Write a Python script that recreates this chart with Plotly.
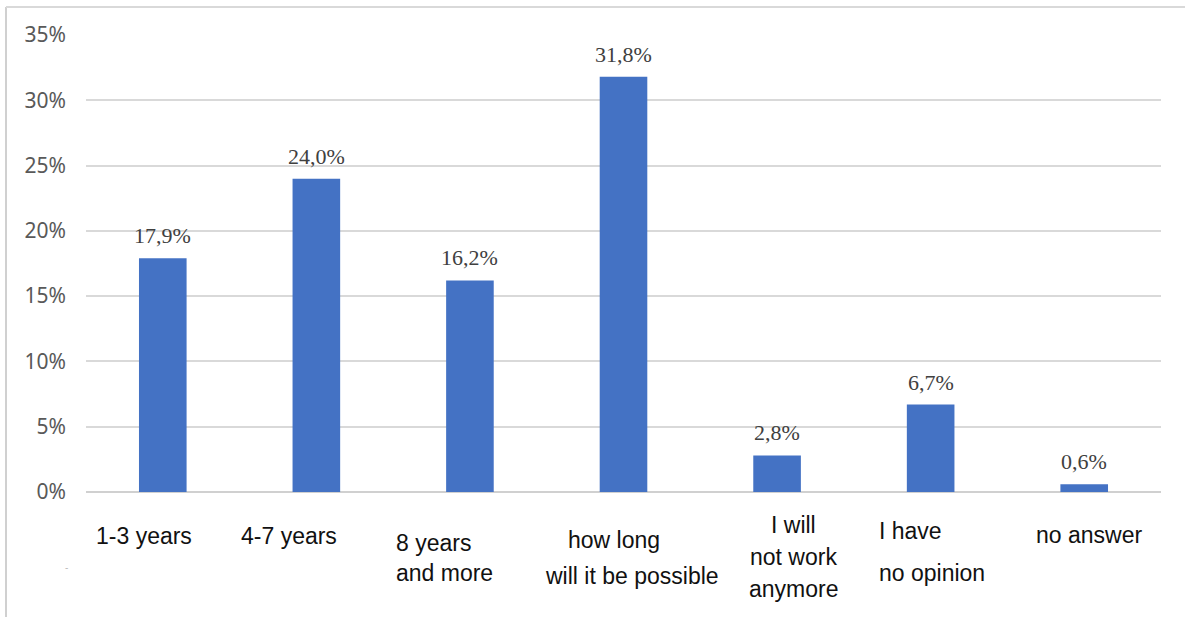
import plotly.graph_objects as go

categories = ["1-3 years", "4-7 years", "8 years and more", "how long will it be possible",
              "I will not work anymore", "I have no opinion", "no answer"]
values = [17.9, 24.0, 16.2, 31.8, 2.8, 6.7, 0.6]
value_labels = ["17,9%", "24,0%", "16,2%", "31,8%", "2,8%", "6,7%", "0,6%"]
tick_vals = [0, 5, 10, 15, 20, 25, 30, 35]
tick_text = ["0%", "5%", "10%", "15%", "20%", "25%", "30%", "35%"]
# category label text as laid out in the picture
cat_label_lines = [["1-3 years"], ["4-7 years"], ["8 years", "and more"],
                   ["how long", "will it be possible"], ["I will", "not work", "anymore"],
                   ["I have", "no opinion"], ["no answer"]]

W, H = 1185, 617
L, R, T, B = 86, 24, 35, 125
PW, PH = W - L - R, H - T - B

def py(pix):
    return (H - B - pix) / PH

def px(pix):
    return (pix - L) / PW

fig = go.Figure(go.Bar(
    x=list(range(len(categories))), y=values,
    marker=dict(color="#4472C4", line=dict(width=0)),
    width=0.31, hoverinfo="skip",
))

ann = []
for i, (v, t) in enumerate(zip(values, value_labels)):
    ann.append(dict(x=i, y=v, xref="x", yref="y", text=t, showarrow=False,
                    yanchor="bottom", yshift=8,
                    font=dict(family="Liberation Serif", size=22, color="#404040")))

# category label placements (pixel positions)
cat_pos = [
    [(144, 536, "center")],
    [(289, 536, "center")],
    [(394, 543, "left"), (394, 573, "left")],
    [(614, 540, "center"), (632, 576, "center")],
    [(793, 525, "center"), (793, 557, "center"), (793, 589, "center")],
    [(877, 531, "left"), (877, 573, "left")],
    [(1089, 535, "center")],
]
for lines, poss in zip(cat_label_lines, cat_pos):
    for txt, (xx, yy, anc) in zip(lines, poss):
        ann.append(dict(x=px(xx), y=py(yy), xref="paper", yref="paper", text=txt,
                        showarrow=False, xanchor=anc, yanchor="middle",
                        font=dict(family="Liberation Sans", size=23, color="#111111")))

ann.append(dict(x=px(63), y=py(575), xref="paper", yref="paper", text="-",
                showarrow=False, font=dict(family="Liberation Sans", size=10, color="#bbbbbb")))

shapes = [
    dict(type="line", xref="paper", yref="paper", x0=px(6), x1=px(6), y0=py(7), y1=py(640),
         line=dict(color="#d0d0d0", width=2)),
    dict(type="line", xref="paper", yref="paper", x0=px(6), x1=px(1200), y0=py(7), y1=py(7),
         line=dict(color="#d9d9d9", width=2)),
]

fig.update_layout(
    width=W, height=H, margin=dict(l=L, r=R, t=T, b=B),
    paper_bgcolor="white", plot_bgcolor="white",
    showlegend=False, annotations=ann, shapes=shapes,
    bargap=0.69,
    xaxis=dict(range=[-0.5, 6.5], showticklabels=False, showgrid=False, zeroline=False,
               showline=False, ticks=""),
    yaxis=dict(range=[0, 35], tickvals=tick_vals, ticktext=tick_text,
               showgrid=True, gridcolor="#d9d9d9", gridwidth=1.5,
               zeroline=True, zerolinecolor="#d0d0d0", zerolinewidth=1.5,
               showline=False, ticks="", ticklabelstandoff=19,
               tickfont=dict(family="Noto Sans", size=21, color="#595959")),
)

fig.write_html("out.html")
